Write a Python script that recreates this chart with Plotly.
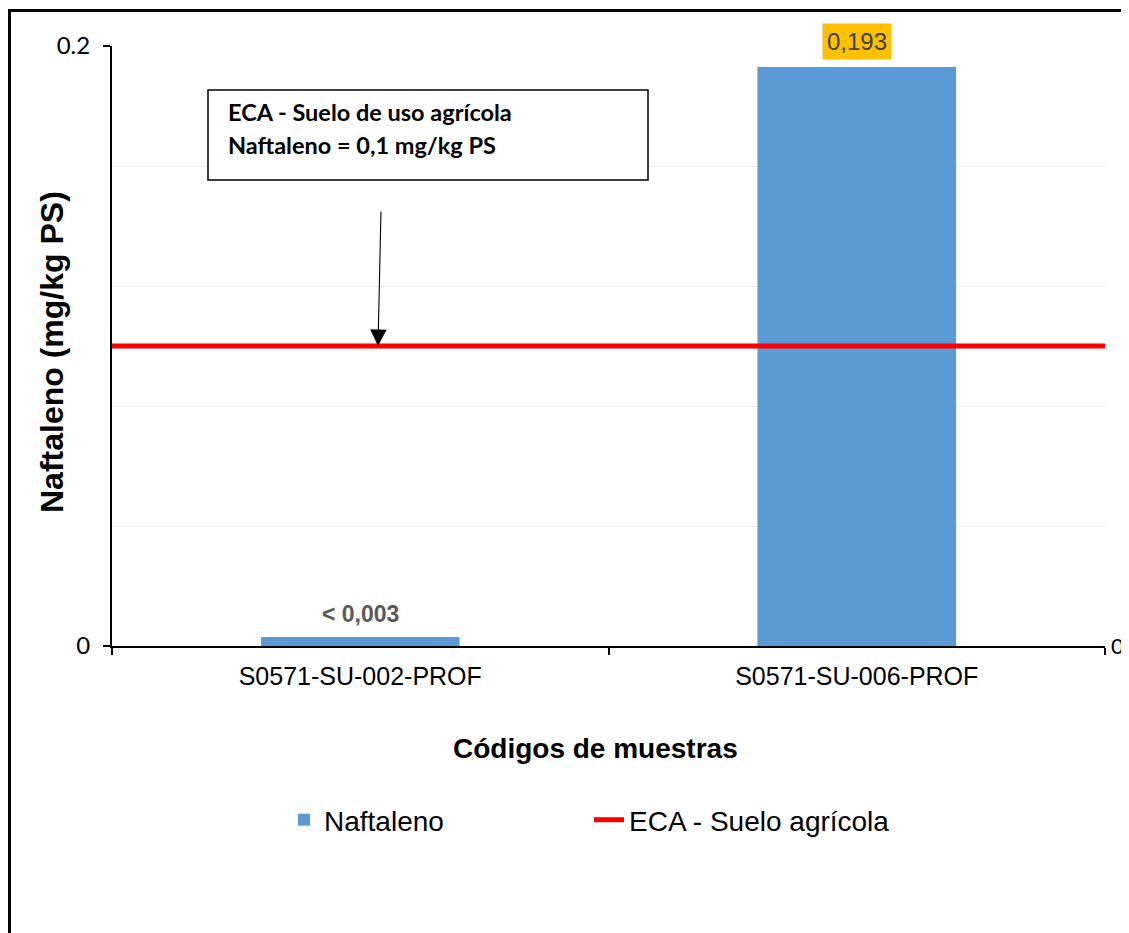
import plotly.graph_objects as go

# ---- data ----
categories = ["S0571-SU-002-PROF", "S0571-SU-006-PROF"]
naftaleno = [0.003, 0.193]
bar_labels = ["< 0,003", "0,193"]
eca_value = 0.1
y_range = [0, 0.2]
y_ticks = [0, 0.2]
y_tick_text = ["0", "0.2"]
series_names = ["Naftaleno", "ECA - Suelo agrícola"]
box_lines = ["ECA - Suelo de uso agrícola", "Naftaleno = 0,1 mg/kg PS"]

BAR_COLOR = "#5B9BD5"
LINE_COLOR = "#FF0000"
ARIAL = "Liberation Sans, Arial, sans-serif"
CALIBRI = "Lato, Carlito, Calibri, sans-serif"

OFF = 8  # page body margin
W, H = 1129 - OFF, 933 - OFF
L, R, T = 112 - OFF, 24, 46 - OFF
B = H - (646 - OFF)
PW, PH = W - L - R, H - T - B


def px(x):
    return (x - OFF - L) / PW


def py(y):
    return (H - B - (y - OFF)) / PH


fig = go.Figure()

fig.add_trace(go.Bar(
    x=categories, y=naftaleno, name=series_names[0],
    marker=dict(color=BAR_COLOR, line=dict(width=0)),
    width=0.4,
))

n = len(categories)
fig.add_trace(go.Scatter(
    x=[0, n], y=[eca_value, eca_value], name=series_names[1],
    mode="lines", line=dict(color=LINE_COLOR, width=5),
    xaxis="x2", yaxis="y2",
))

annotations = []
# data labels
annotations.append(dict(
    x=categories[0], y=naftaleno[0], xref="x", yref="y",
    text="<b>" + bar_labels[0] + "</b>", showarrow=False,
    yanchor="bottom", yshift=8,
    font=dict(family=ARIAL, size=23, color="#595959"),
))
annotations.append(dict(
    x=categories[1], y=naftaleno[1], xref="x", yref="y",
    text=bar_labels[1], showarrow=False,
    yanchor="bottom", yshift=7, bgcolor="#FFC000", borderpad=4,
    font=dict(family=ARIAL, size=24, color="#404040"),
))
# text box content (two lines)
for line_text, yc in zip(box_lines, [112, 145]):
    annotations.append(dict(
        x=px(226), y=py(yc), xref="paper", yref="paper",
        xanchor="left", yanchor="middle", align="left",
        text="<b>" + line_text + "</b>", showarrow=False,
        font=dict(family=CALIBRI, size=23.5, color="#000000"),
    ))
# arrow
annotations.append(dict(
    x=px(378), y=eca_value, xref="paper", yref="y",
    ax=3, ay=-136, axref="pixel", ayref="pixel",
    text="", showarrow=True, arrowhead=2, arrowsize=3,
    arrowwidth=1.1, arrowcolor="#000000", standoff=0,
))
# axis titles
annotations.append(dict(
    x=px(52), y=py(352), xref="paper", yref="paper",
    text="<b>Naftaleno (mg/kg PS)</b>", textangle=-90, showarrow=False,
    xanchor="center", yanchor="middle",
    font=dict(family=ARIAL, size=32, color="#000000"),
))
annotations.append(dict(
    x=px(595), y=py(748), xref="paper", yref="paper",
    text="<b>Códigos de muestras</b>", showarrow=False,
    xanchor="center", yanchor="middle",
    font=dict(family=ARIAL, size=28, color="#000000"),
))

shapes = [
    # outer chart border: left and top edges (others lie beyond the frame)
    dict(type="line", xref="paper", yref="paper",
         x0=px(9.5), x1=px(9.5), y0=py(1200), y1=py(9.5),
         line=dict(color="#000000", width=3), layer="above"),
    dict(type="line", xref="paper", yref="paper",
         x0=px(8), x1=px(1400), y0=py(10.5), y1=py(10.5),
         line=dict(color="#000000", width=3), layer="above"),
    # annotation box
    dict(type="rect", xref="paper", yref="paper",
         x0=px(208), x1=px(648), y0=py(180), y1=py(90),
         line=dict(color="#000000", width=1.5), fillcolor="#FFFFFF",
         layer="above"),
]

fig.update_layout(
    width=W, height=H,
    margin=dict(l=L, r=R, t=T, b=B, autoexpand=False),
    paper_bgcolor="#FFFFFF", plot_bgcolor="#FFFFFF",
    font=dict(family=ARIAL, size=22, color="#000000"),
    bargap=0.6,
    showlegend=True,
    legend=dict(
        orientation="h", x=px(284), y=py(820), xanchor="left", yanchor="middle",
        font=dict(family=ARIAL, size=28, color="#000000"),
        entrywidth=260, entrywidthmode="pixels",
        bgcolor="rgba(0,0,0,0)", traceorder="normal",
    ),
    xaxis=dict(
        type="category", showgrid=False, zeroline=False,
        showline=True, linecolor="#000000", linewidth=2,
        ticks="outside", ticklen=7, tickwidth=2, tickcolor="#000000",
        tickson="boundaries", ticklabelstandoff=7,
        tickfont=dict(family=ARIAL, size=25, color="#000000"),
    ),
    yaxis=dict(
        range=y_range, tickvals=y_ticks, ticktext=y_tick_text,
        showline=True, linecolor="#000000", linewidth=2,
        ticks="outside", ticklen=7, tickwidth=2, tickcolor="#000000",
        showgrid=True, gridcolor="#D9D9D9", gridwidth=1.5, zeroline=False,
        minor=dict(dtick=0.04, tick0=0, showgrid=True, gridcolor="#EDEDED",
                   gridwidth=1.2, ticks=""),
        ticklabelstandoff=8,
        tickfont=dict(family=CALIBRI, size=24, color="#000000"),
    ),
    xaxis2=dict(overlaying="x", range=[0, n], visible=False),
    yaxis2=dict(
        overlaying="y", side="right", range=y_range,
        tickvals=[0], ticktext=["0"], ticks="", showline=False,
        showgrid=False, zeroline=False, ticklabelstandoff=5,
        tickfont=dict(family=CALIBRI, size=22, color="#000000"),
    ),
    annotations=annotations,
    shapes=shapes,
)

fig.write_html("out.html")
